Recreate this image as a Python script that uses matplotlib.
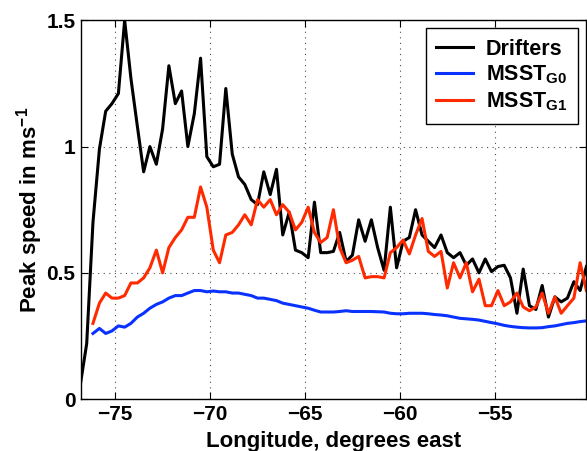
import matplotlib
matplotlib.use('Agg')
import matplotlib.pyplot as plt

plt.rcParams['font.family'] = ['Liberation Sans', 'DejaVu Sans']
plt.rcParams['font.weight'] = 'bold'
plt.rcParams['mathtext.fontset'] = 'custom'
plt.rcParams['mathtext.bf'] = 'Liberation Sans:bold'
plt.rcParams['mathtext.rm'] = 'Liberation Sans:bold'

# longitude grid (1/3 degree steps)
lon = [-76.83, -76.50, -76.17, -75.83, -75.50, -75.17, -74.83, -74.50, -74.17, -73.83,
       -73.50, -73.17, -72.83, -72.50, -72.17, -71.83, -71.50, -71.17, -70.83, -70.50,
       -70.17, -69.83, -69.50, -69.17, -68.83, -68.50, -68.17, -67.83, -67.50, -67.17,
       -66.83, -66.50, -66.17, -65.83, -65.50, -65.17, -64.83, -64.50, -64.17, -63.83,
       -63.50, -63.17, -62.83, -62.50, -62.17, -61.83, -61.50, -61.17, -60.83, -60.50,
       -60.17, -59.83, -59.50, -59.17, -58.83, -58.50, -58.17, -57.83, -57.50, -57.17,
       -56.83, -56.50, -56.17, -55.83, -55.50, -55.17, -54.83, -54.50, -54.17, -53.83,
       -53.50, -53.17, -52.83, -52.50, -52.17, -51.83, -51.50, -51.17, -50.83, -50.50,
       -50.17]

drifters = [0.06, 0.22, 0.70, 0.99, 1.14, 1.17, 1.21, 1.50, 1.27, 1.08,
            0.90, 1.00, 0.93, 1.07, 1.32, 1.17, 1.22, 1.00, 1.13, 1.35,
            0.96, 0.92, 0.93, 1.23, 0.97, 0.88, 0.85, 0.79, 0.77, 0.90,
            0.81, 0.91, 0.65, 0.74, 0.59, 0.58, 0.56, 0.78, 0.58, 0.58,
            0.585, 0.66, 0.545, 0.57, 0.71, 0.625, 0.71, 0.60, 0.51, 0.76,
            0.52, 0.625, 0.64, 0.75, 0.65, 0.625, 0.60, 0.65, 0.58, 0.56,
            0.58, 0.53, 0.555, 0.50, 0.555, 0.505, 0.525, 0.53, 0.48, 0.34,
            0.515, 0.37, 0.355, 0.45, 0.325, 0.405, 0.385, 0.40, 0.465, 0.43,
            0.525]

# model series start at the third longitude
msst_g0 = [0.26, 0.28, 0.26, 0.27, 0.29, 0.285, 0.30, 0.325, 0.34, 0.36,
           0.375, 0.385, 0.40, 0.41, 0.41, 0.42, 0.43, 0.43, 0.425, 0.428,
           0.425, 0.425, 0.42, 0.42, 0.415, 0.41, 0.40, 0.40, 0.395, 0.39,
           0.38, 0.375, 0.37, 0.365, 0.36, 0.352, 0.345, 0.345, 0.345, 0.347,
           0.35, 0.347, 0.347, 0.347, 0.347, 0.346, 0.345, 0.34, 0.338, 0.338,
           0.34, 0.34, 0.34, 0.338, 0.335, 0.333, 0.33, 0.325, 0.32, 0.318,
           0.316, 0.313, 0.308, 0.303, 0.298, 0.292, 0.288, 0.285, 0.283, 0.282,
           0.282, 0.283, 0.287, 0.29, 0.295, 0.30, 0.303, 0.307, 0.31]

msst_g1 = [0.30, 0.38, 0.42, 0.40, 0.40, 0.41, 0.46, 0.46, 0.48, 0.52,
           0.59, 0.50, 0.60, 0.64, 0.67, 0.72, 0.72, 0.84, 0.76, 0.59,
           0.54, 0.65, 0.66, 0.69, 0.73, 0.69, 0.79, 0.76, 0.79, 0.73,
           0.77, 0.74, 0.67, 0.70, 0.76, 0.66, 0.62, 0.64, 0.75, 0.60,
           0.54, 0.55, 0.565, 0.48, 0.485, 0.485, 0.48, 0.58, 0.60, 0.63,
           0.575, 0.65, 0.715, 0.585, 0.565, 0.585, 0.44, 0.54, 0.48, 0.54,
           0.425, 0.475, 0.37, 0.37, 0.43, 0.37, 0.385, 0.42, 0.365, 0.35,
           0.365, 0.42, 0.34, 0.405, 0.34, 0.37, 0.40, 0.54, 0.43]

lon_model = lon[2:]

fig = plt.figure(figsize=(5.87, 4.51), dpi=100)
ax = fig.add_axes([0.138, 0.115, 0.860, 0.840])

ax.plot(lon, drifters, color='black', lw=2.2, label='Drifters')
ax.plot(lon_model, msst_g0, color='#0a32ff', lw=2.2, label=r'MSST$_{\mathbf{G0}}$')
ax.plot(lon_model, msst_g1, color='#ff2a00', lw=2.2, label=r'MSST$_{\mathbf{G1}}$')

ax.set_xlim(-76.8, -50.2)
ax.set_ylim(0, 1.5)
ax.set_xticks([-75, -70, -65, -60, -55])
ax.set_yticks([0, 0.5, 1, 1.5])
ax.set_yticklabels(['0', '0.5', '1', '1.5'])
ax.tick_params(direction='in', top=True, right=True, length=5, labelsize=15, pad=4)
for lab in ax.get_xticklabels() + ax.get_yticklabels():
    lab.set_fontweight('bold')
ax.grid(True, linestyle=(0, (1, 4)), color='black', lw=0.8, alpha=0.7)
for s in ax.spines.values():
    s.set_linewidth(1.0)

ax.set_xlabel('Longitude, degrees east', fontsize=16, fontweight='bold', labelpad=5)
ax.set_ylabel(r'Peak speed in ms$^{\mathbf{-1}}$', fontsize=16, fontweight='bold', labelpad=1)

leg = ax.legend(loc='upper right', fontsize=15.5, frameon=True, fancybox=False,
                edgecolor='black', framealpha=1, handlelength=1.7,
                borderaxespad=0.35, labelspacing=0.2, handletextpad=0.6,
                borderpad=0.5)
leg.get_frame().set_linewidth(1.0)
for t in leg.get_texts():
    t.set_fontweight('bold')

fig.savefig('out.png', dpi=100)
